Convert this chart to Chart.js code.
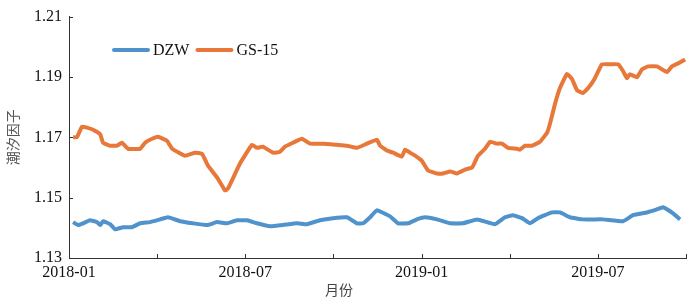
<!DOCTYPE html>
<html>
<head>
<meta charset="utf-8">
<script src="https://cdn.jsdelivr.net/npm/chart.js@4/dist/chart.umd.min.js"></script>
<style>
    html, body { margin: 0; padding: 0; background: #fff; }
    #wrap { width: 700px; height: 304px; position: relative; }
</style>
</head>
<body>
<div id="wrap"><canvas id="tideChart"></canvas></div>
<script>
// Tidal factor, DZW vs GS-15 (x = months since 2018-01)

const xTickLabels = ['2018-01', '', '2018-07', '', '2019-01', '', '2019-07', ''];
const yTicks = [1.13, 1.15, 1.17, 1.19, 1.21];

const gsMonth = [0.14, 0.27, 0.44, 0.61, 0.82, 1.06, 1.16, 1.40, 1.63, 1.80, 2.01, 2.42, 2.59, 2.83, 3.03,
    3.34, 3.51, 3.95, 4.29, 4.53, 4.73, 5.04, 5.31, 5.41, 5.82, 6.23, 6.40, 6.60, 6.94, 7.18, 7.35,
    7.62, 7.93, 8.20, 8.65, 9.12, 9.46, 9.80, 10.14, 10.48, 10.59, 10.82, 11.03, 11.33, 11.44, 11.61,
    11.78, 12.01, 12.22, 12.53, 12.73, 12.97, 13.21, 13.48, 13.72, 13.92, 14.16, 14.33, 14.57, 14.74,
    14.94, 15.25, 15.35, 15.52, 15.76, 16.03, 16.27, 16.37, 16.54, 16.71, 16.95, 17.12, 17.29, 17.50,
    17.67, 17.90, 18.14, 18.41, 18.69, 18.86, 18.99, 19.09, 19.33, 19.50, 19.71, 20.01, 20.35, 20.52,
    20.73, 20.97];
const gsValue = [1.1700, 1.1700, 1.1735, 1.1732, 1.1725, 1.1710, 1.1682, 1.1672, 1.1672, 1.1682, 1.1662,
    1.1662, 1.1682, 1.1695, 1.1702, 1.1688, 1.1662, 1.1639, 1.1649, 1.1645, 1.1606, 1.1567, 1.1524,
    1.1530, 1.1613, 1.1675, 1.1665, 1.1669, 1.1649, 1.1652, 1.1669, 1.1682, 1.1695, 1.1679, 1.1679,
    1.1675, 1.1672, 1.1665, 1.1679, 1.1692, 1.1672, 1.1656, 1.1649, 1.1636, 1.1659, 1.1649, 1.1639,
    1.1622, 1.1590, 1.1580, 1.1580, 1.1587, 1.1580, 1.1593, 1.1600, 1.1639, 1.1662, 1.1685, 1.1679,
    1.1679, 1.1665, 1.1662, 1.1659, 1.1672, 1.1672, 1.1685, 1.1715, 1.1745, 1.1810, 1.1863, 1.1910,
    1.1893, 1.1856, 1.1847, 1.1863, 1.1896, 1.1942, 1.1942, 1.1942, 1.1919, 1.1896, 1.1909, 1.1899,
    1.1925, 1.1935, 1.1935, 1.1916, 1.1935, 1.1945, 1.1958];

const dzwMonth = [0.14, 0.31, 0.48, 0.71, 0.95, 1.06, 1.16, 1.40, 1.57, 1.84, 2.14, 2.42, 2.76, 3.10, 3.37,
    3.78, 4.22, 4.70, 5.04, 5.38, 5.72, 6.06, 6.40, 6.84, 7.28, 7.76, 8.10, 8.54, 8.99, 9.46, 9.80,
    10.01, 10.25, 10.48, 10.93, 11.20, 11.54, 11.84, 12.12, 12.53, 12.97, 13.41, 13.89, 14.50, 14.84,
    15.11, 15.42, 15.69, 15.96, 16.44, 16.71, 17.05, 17.50, 18.18, 18.86, 19.20, 19.67, 20.01, 20.22,
    20.56, 20.80];
const dzwValue = [1.1419, 1.1409, 1.1415, 1.1425, 1.1419, 1.1409, 1.1422, 1.1412, 1.1395, 1.1402, 1.1402,
    1.1415, 1.1419, 1.1428, 1.1435, 1.1422, 1.1415, 1.1409, 1.1419, 1.1415, 1.1425, 1.1425, 1.1415,
    1.1405, 1.1409, 1.1415, 1.1412, 1.1425, 1.1432, 1.1435, 1.1415, 1.1415, 1.1435, 1.1458, 1.1438,
    1.1415, 1.1415, 1.1428, 1.1435, 1.1428, 1.1415, 1.1415, 1.1428, 1.1412, 1.1435, 1.1442, 1.1432,
    1.1415, 1.1432, 1.1451, 1.1451, 1.1435, 1.1428, 1.1428, 1.1422, 1.1442, 1.1451, 1.1461, 1.1468,
    1.1448, 1.1428];

const BLUE = '#4f92cc';
const ORANGE = '#e8773a';
const SERIF = '"Liberation Serif", "Times New Roman", serif';
const CJK = '"Noto Sans CJK SC", sans-serif';

function toPoints(xs, ys) {
    return xs.map((m, i) => ({ x: m, y: ys[i] }));
}

// inward ticks, in-plot legend, x-axis title
const extras = {
    id: 'extras',
    afterDraw(chart) {
        const { ctx, chartArea, scales } = chart;
        const x = scales.x, y = scales.y;
        ctx.save();
        ctx.strokeStyle = '#333';
        ctx.lineWidth = 1;
        x.ticks.forEach(t => {
            const px = Math.round(x.getPixelForValue(t.value)) + 0.5;
            ctx.beginPath();
            ctx.moveTo(px, chartArea.bottom);
            ctx.lineTo(px, chartArea.bottom - 4);
            ctx.stroke();
        });
        y.ticks.forEach(t => {
            const py = Math.round(y.getPixelForValue(t.value)) + 0.5;
            ctx.beginPath();
            ctx.moveTo(chartArea.left, py);
            ctx.lineTo(chartArea.left + 4, py);
            ctx.stroke();
        });

        // legend
        ctx.lineCap = 'round';
        ctx.lineWidth = 4;
        ctx.font = '16px ' + SERIF;
        ctx.fillStyle = '#111';
        ctx.textBaseline = 'middle';
        let lx = 114;
        chart.data.datasets.forEach(ds => {
            ctx.strokeStyle = ds.borderColor;
            ctx.beginPath();
            ctx.moveTo(lx, 50);
            ctx.lineTo(lx + 34, 50);
            ctx.stroke();
            ctx.fillText(ds.label, lx + 39, 51);
            lx += 39 + ctx.measureText(ds.label).width + 8;
        });

        // x-axis title
        ctx.font = '14px ' + CJK;
        ctx.fillStyle = '#444';
        ctx.textAlign = 'center';
        ctx.fillText('月份', 339, 290);
        ctx.restore();
    }
};

new Chart(document.getElementById('tideChart'), {
    type: 'line',
    data: {
        datasets: [
            {
                label: 'DZW',
                data: toPoints(dzwMonth, dzwValue),
                borderColor: BLUE,
                borderWidth: 4,
                pointRadius: 0,
                tension: 0.1
            },
            {
                label: 'GS-15',
                data: toPoints(gsMonth, gsValue),
                borderColor: ORANGE,
                borderWidth: 4,
                pointRadius: 0,
                tension: 0.1
            }
        ]
    },
    options: {
        responsive: true,
        maintainAspectRatio: false,
        animation: false,
        layout: { padding: { top: 15, right: 14, left: 0, bottom: 0 } },
        plugins: {
            legend: { display: false },
            tooltip: { enabled: false }
        },
        scales: {
            x: {
                type: 'linear',
                min: 0,
                max: 21,
                afterFit: s => { s.height = 46; },
                afterBuildTicks: s => { s.ticks = xTickLabels.map((_, i) => ({ value: i * 3 })); },
                grid: { display: false, drawTicks: false },
                border: { display: true, color: '#333', width: 1 },
                ticks: {
                    autoSkip: false,
                    maxRotation: 0,
                    padding: 5,
                    color: '#111',
                    font: { family: SERIF, size: 16 },
                    callback: (v) => xTickLabels[Math.round(v / 3)] || ''
                }
            },
            y: {
                min: 1.13,
                max: 1.21,
                afterFit: s => { s.width = 69; },
                afterBuildTicks: s => { s.ticks = yTicks.map(v => ({ value: v })); },
                grid: { display: false, drawTicks: false },
                border: { display: true, color: '#333', width: 1 },
                ticks: {
                    padding: 7,
                    color: '#111',
                    font: { family: SERIF, size: 16 },
                    callback: v => v.toFixed(2)
                },
                title: {
                    display: true,
                    text: '潮汐因子',
                    color: '#555',
                    font: { family: CJK, size: 14 },
                    padding: { top: 4, bottom: 0 }
                }
            }
        }
    },
    plugins: [extras]
});
</script>
</body>
</html>
